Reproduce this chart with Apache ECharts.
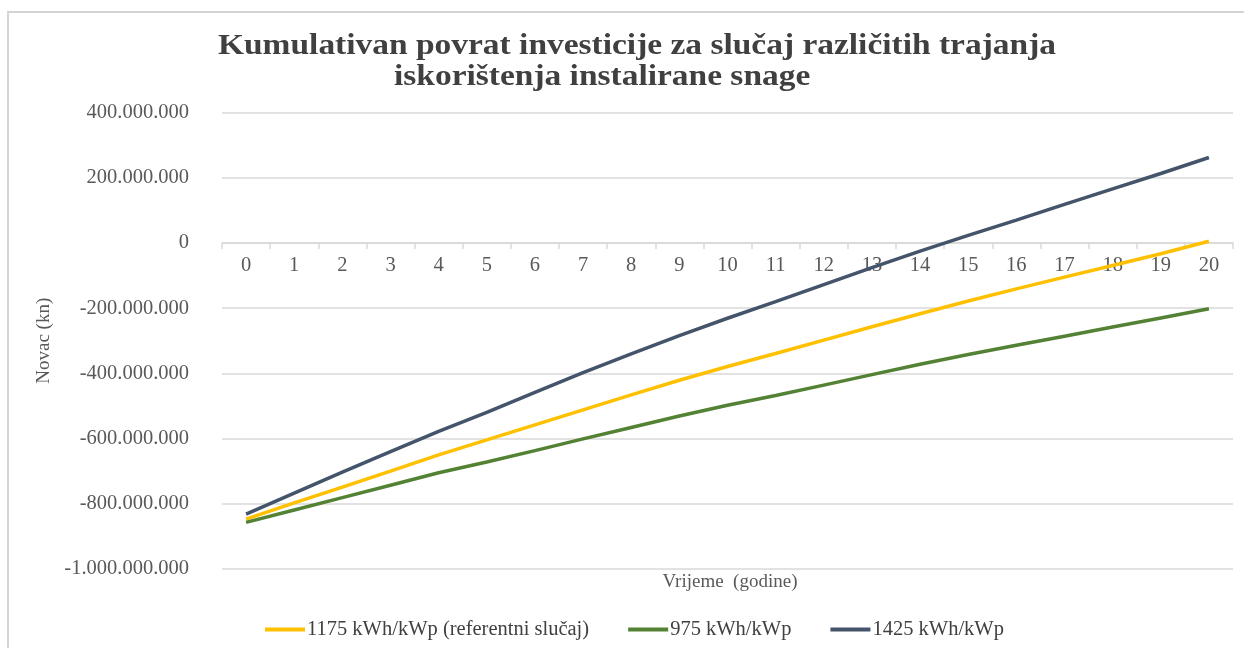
<!DOCTYPE html>
<html>
<head>
<meta charset="utf-8">
<script src="https://cdn.jsdelivr.net/npm/echarts@6/dist/echarts.min.js"></script>
<style>
  html, body { margin: 0; padding: 0; background: #ffffff; }
  #chart { width: 1244px; height: 648px; }
</style>
</head>
<body>
<div id="chart"></div>
<script>
// Years since commissioning
const years = ['0','1','2','3','4','5','6','7','8','9','10','11','12','13','14','15','16','17','18','19','20'];

// Cumulative return on investment (kn) for each yield scenario
const referentni1175 = [-847e6,-797e6,-749e6,-700e6,-650e6,-604e6,-558e6,-512e6,-466e6,-421e6,-379e6,-339e6,-298e6,-257e6,-217e6,-178e6,-141e6,-105e6,-69e6,-33e6,5e6];
const yield975 = [-857e6,-819e6,-781e6,-743e6,-705e6,-672e6,-637e6,-601e6,-566e6,-531e6,-498e6,-468e6,-436e6,-404e6,-372e6,-342e6,-314e6,-286e6,-258e6,-230e6,-202e6];
const yield1425 = [-832e6,-767e6,-703e6,-640e6,-578e6,-520e6,-458e6,-398e6,-340e6,-284e6,-231e6,-180e6,-128e6,-76e6,-25e6,23e6,70e6,118e6,166e6,213e6,262e6];

// Series names as shown in the legend
const seriesNames = ['1175 kWh/kWp (referentni slučaj)', '975 kWh/kWp', '1425 kWh/kWp'];

// Chart and axis titles
const titleLines = ['Kumulativan povrat investicije za slučaj različitih trajanja', 'iskorištenja instalirane snage'];
const xAxisTitle = 'Vrijeme  (godine)';
const yAxisTitle = 'Novac (kn)';

// Value axis range
const yMin = -1000e6;
const yMax = 400e6;
const yStep = 200e6;

const serif = '"Liberation Serif", "Times New Roman", serif';
const grey = '#595959';
const dark = '#404040';

// Plot area
const gridTop = 112.5;
const gridBottom = 79;
const chartHeight = 648;

function thousands(v) {
  const s = Math.abs(Math.round(v)).toString().replace(/\B(?=(\d{3})+(?!\d))/g, '.');
  return (v < 0 ? '-' : '') + s;
}

// Distance from the bottom of the plot up to the zero line, so the
// category axis (line, ticks and labels) sits on y = 0.
const plotHeight = chartHeight - gridTop - gridBottom;
const zeroLift = plotHeight * (0 - yMin) / (yMax - yMin);

const chart = echarts.init(document.getElementById('chart'), null, { renderer: 'canvas' });

chart.setOption({
  backgroundColor: '#ffffff',
  animation: false,
  graphic: [
    {
      // chart frame
      type: 'rect', z: -10, silent: true,
      shape: { x: 8, y: 12, width: 1400, height: 800 },
      style: { fill: 'none', stroke: '#d4d4d4', lineWidth: 2 }
    },
    {
      type: 'text', x: 218, y: 31, scaleX: 1.115, silent: true,
      style: { text: titleLines[0], font: 'bold 30px ' + serif, fill: dark, verticalAlign: 'top' }
    },
    {
      type: 'text', x: 394, y: 62, scaleX: 1.115, silent: true,
      style: { text: titleLines[1], font: 'bold 30px ' + serif, fill: dark, verticalAlign: 'top' }
    },
    {
      type: 'text', x: 730, y: 582, silent: true,
      style: { text: xAxisTitle, font: '19px ' + serif, fill: grey, align: 'center', verticalAlign: 'middle' }
    }
  ],
  legend: {
    left: 265, top: 619, padding: 0,
    itemWidth: 40, itemHeight: 4, itemGap: 39,
    icon: 'rect',
    textStyle: { fontFamily: serif, fontSize: 20.5, color: dark, padding: [0, 0, 0, -3] },
    data: seriesNames
  },
  grid: { left: 222, right: 11, top: gridTop, bottom: gridBottom, containLabel: false },
  xAxis: {
    type: 'category',
    data: years,
    boundaryGap: true,
    position: 'bottom',
    offset: -zeroLift,
    axisLine: { onZero: false, lineStyle: { color: '#d9d9d9', width: 1.5 } },
    axisTick: { show: true, alignWithLabel: false, length: 6, lineStyle: { color: '#d9d9d9', width: 1.5 } },
    axisLabel: { fontFamily: serif, fontSize: 20.5, color: grey, margin: 12 },
    splitLine: { show: false }
  },
  yAxis: {
    type: 'value',
    min: yMin, max: yMax, interval: yStep,
    name: yAxisTitle,
    nameLocation: 'middle',
    nameGap: 162,
    nameTextStyle: { fontFamily: serif, fontSize: 19, color: grey },
    axisLine: { show: false },
    axisTick: { show: false },
    axisLabel: { fontFamily: serif, fontSize: 20.5, color: grey, margin: 33, formatter: thousands },
    splitLine: { lineStyle: { color: '#d9d9d9', width: 1.5 } }
  },
  series: [
    {
      name: seriesNames[0], type: 'line', data: referentni1175,
      symbol: 'none', smooth: false,
      lineStyle: { color: '#FFC000', width: 3.5 }, itemStyle: { color: '#FFC000' }
    },
    {
      name: seriesNames[1], type: 'line', data: yield975,
      symbol: 'none', smooth: false,
      lineStyle: { color: '#548235', width: 3.5 }, itemStyle: { color: '#548235' }
    },
    {
      name: seriesNames[2], type: 'line', data: yield1425,
      symbol: 'none', smooth: false,
      lineStyle: { color: '#44546A', width: 3.5 }, itemStyle: { color: '#44546A' }
    }
  ]
});
</script>
</body>
</html>
